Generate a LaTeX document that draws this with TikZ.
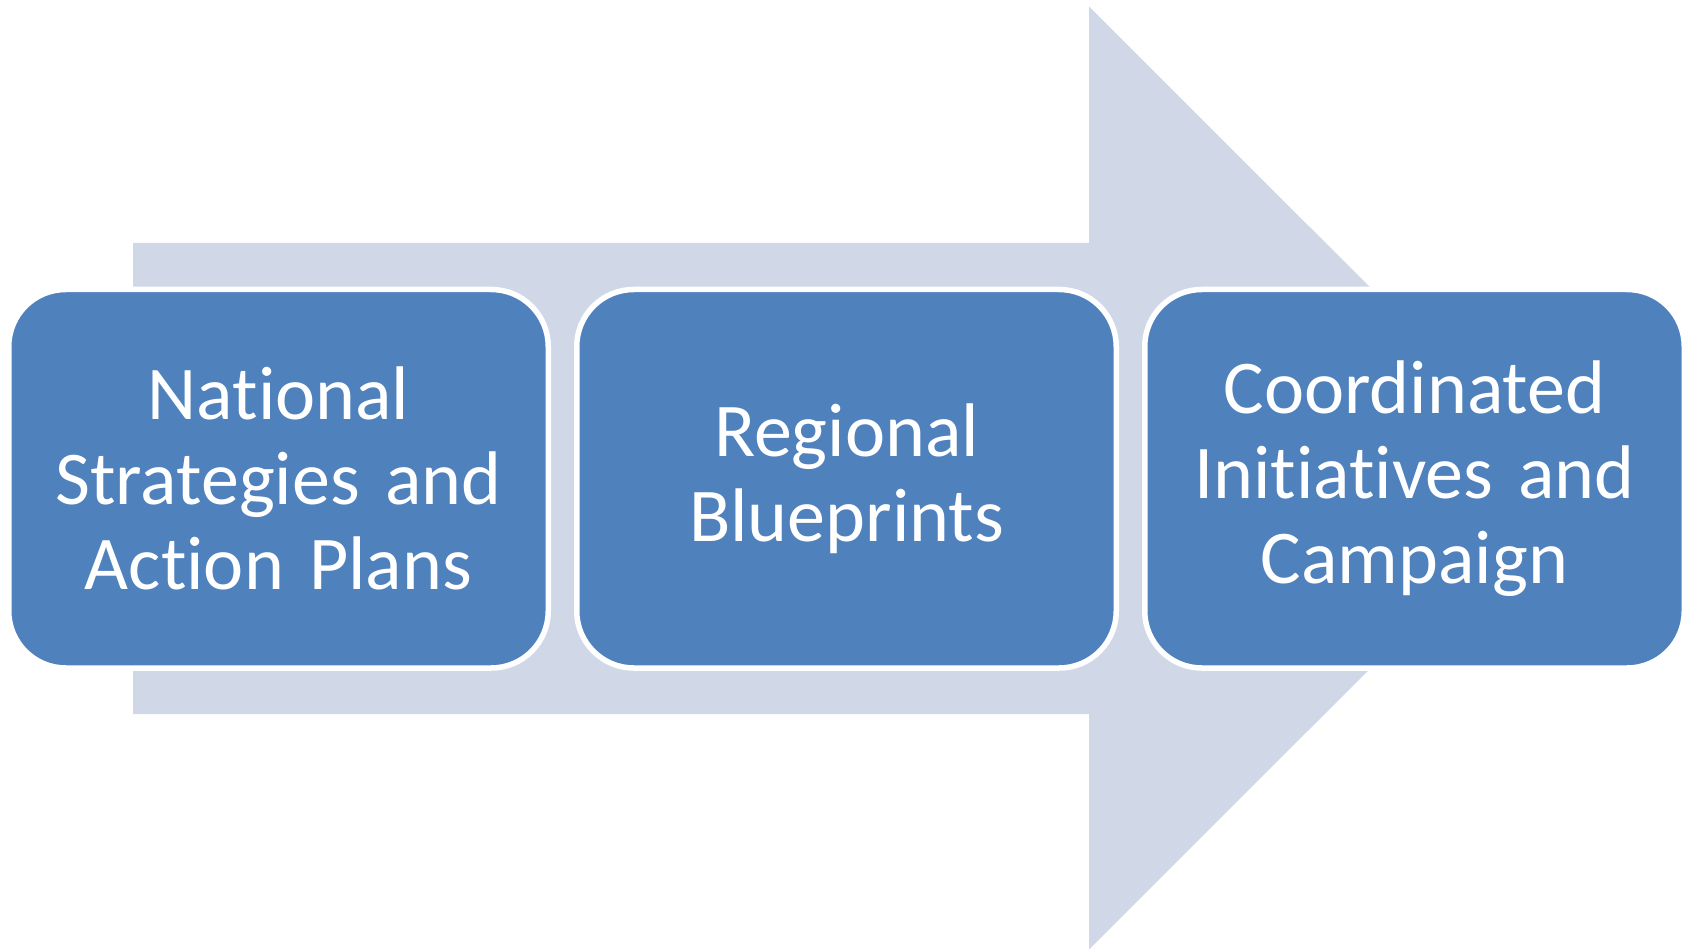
\documentclass[tikz,border=0pt]{standalone}
\usepackage{fontspec}
\setmainfont{Carlito}[Ligatures={NoCommon}]
\definecolor{boxblue}{HTML}{4F81BD}
\definecolor{arrowfill}{HTML}{D0D8E8}
\begin{document}
\begin{tikzpicture}[x=1pt,y=-1pt,
  stage/.style={draw=white, line width=5.5pt, fill=boxblue,
    rounded corners=57pt, minimum width=539.5pt, minimum height=378.5pt,
    inner sep=0pt, text=white, align=center, text width=520pt,
    font=\fontsize{76}{85}\selectfont}]
\useasboundingbox (0,0) rectangle (1687,949);
% broad background arrow
\fill[arrowfill] (133,243) -- (1089,243) -- (1089,6.5) -- (1561,478)
  -- (1089,949.5) -- (1089,714) -- (133,714) -- cycle;
% the three stages
\node[stage] (national) at (278.5,478.75) {National\\Strategies and\\Action Plans};
\node[stage] (regional) at (846.5,478.75) {Regional\\Blueprints};
\node[stage] (coordinated) at (1414.5,478.75) {Coordinated\\Initiatives and\\Campaign};
\end{tikzpicture}
\end{document}
